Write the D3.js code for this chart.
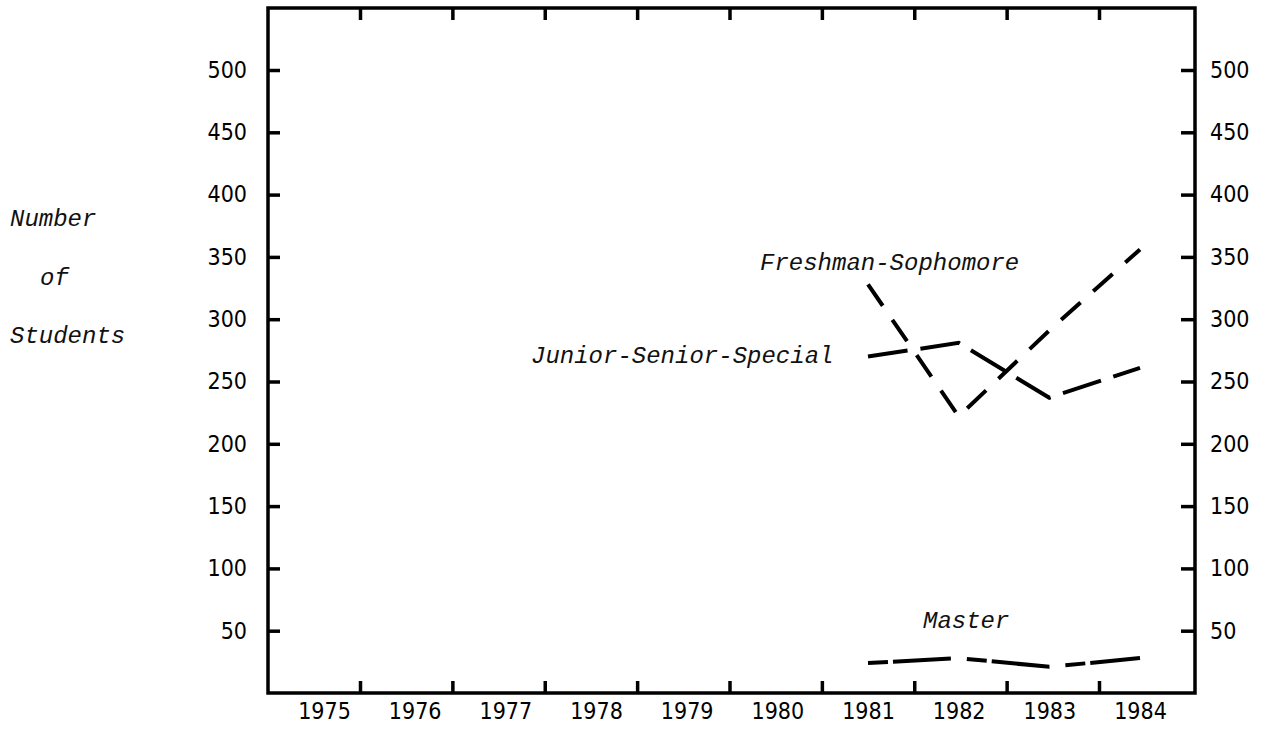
<!DOCTYPE html>
<html>
<head>
<meta charset="utf-8">
<script src="https://cdn.jsdelivr.net/npm/d3@7"></script>
<style>
  body { margin: 0; background: #fff; }
  svg { display: block; }
  .tick text { font-family: "DejaVu Sans Condensed", "DejaVu Sans", sans-serif; font-stretch: condensed; fill: #000; }
  .note { font-family: "Liberation Mono", "Courier New", monospace; font-style: italic; font-size: 24px; fill: #111; }
</style>
</head>
<body>
<script>
var years = [1975, 1976, 1977, 1978, 1979, 1980, 1981, 1982, 1983, 1984];
var dataYears = [1981, 1982, 1983, 1984];
var freshSoph = [328, 222, 291, 356];
var juniorSenior = [270, 281, 237, 261];
var master = [24, 28, 21, 28];
var yTicks = [50, 100, 150, 200, 250, 300, 350, 400, 450, 500];

var width = 1270, height = 729;
var frame = {left: 268, right: 1195, top: 8, bottom: 693};

var svg = d3.select("body").append("svg")
    .attr("width", width).attr("height", height);

// years sit at label centres, the tick marks fall between them
var x = d3.scaleLinear().domain([1975, 1984]).range([324, 1140]);
var xTick = d3.scaleLinear().domain([1975.5, 1983.5]).range([360, 1099]);
var y = d3.scaleLinear().domain([0, 500]).range([frame.bottom, 70]);

var tickYears = years.slice(0, 9).map(function(d){ return d + 0.5; });

// frame
svg.append("rect")
    .attr("x", frame.left).attr("y", frame.top)
    .attr("width", frame.right - frame.left)
    .attr("height", frame.bottom - frame.top)
    .attr("fill", "none").attr("stroke", "#000").attr("stroke-width", 3.5);

// tick marks bottom and top
svg.append("g").attr("transform", "translate(0," + frame.bottom + ")")
    .call(d3.axisTop(xTick).tickValues(tickYears).tickSize(12).tickFormat(""))
    .call(function(g){ g.select(".domain").remove(); g.selectAll("line").attr("stroke-width", 3.5); });
svg.append("g").attr("transform", "translate(0," + frame.top + ")")
    .call(d3.axisBottom(xTick).tickValues(tickYears).tickSize(12).tickFormat(""))
    .call(function(g){ g.select(".domain").remove(); g.selectAll("line").attr("stroke-width", 3.5); });

// year labels
svg.append("g").attr("transform", "translate(0," + frame.bottom + ")")
    .call(d3.axisBottom(x).tickValues(years).tickSize(0).tickPadding(10).tickFormat(d3.format("d")))
    .call(function(g){ g.select(".domain").remove(); g.selectAll("text").attr("font-size", 23); });

// left and right value axes
svg.append("g").attr("transform", "translate(" + frame.left + ",0)")
    .call(d3.axisRight(y).tickValues(yTicks).tickSize(12).tickFormat(""))
    .call(function(g){ g.select(".domain").remove(); g.selectAll("line").attr("stroke-width", 3.5); });
svg.append("g").attr("transform", "translate(" + frame.left + ",0)")
    .call(d3.axisLeft(y).tickValues(yTicks).tickSize(0).tickPadding(21))
    .call(function(g){ g.select(".domain").remove(); g.selectAll("text").attr("font-size", 23); });

svg.append("g").attr("transform", "translate(" + frame.right + ",0)")
    .call(d3.axisLeft(y).tickValues(yTicks).tickSize(14).tickFormat(""))
    .call(function(g){ g.select(".domain").remove(); g.selectAll("line").attr("stroke-width", 3.5); });
svg.append("g").attr("transform", "translate(" + frame.right + ",0)")
    .call(d3.axisRight(y).tickValues(yTicks).tickSize(0).tickPadding(15))
    .call(function(g){
      g.select(".domain").remove();
      g.selectAll("text").attr("font-size", 23)
        .attr("fill", function(d){ return d === 300 ? "#aaa" : "#000"; });
    });

// series
var line = d3.line()
    .x(function(d, i){ return x(dataYears[i]); })
    .y(function(d){ return y(d); });

var series = [
  {name: "Freshman-Sophomore", values: freshSoph, dash: "26,17"},
  {name: "Junior-Senior-Special", values: juniorSenior, dash: "40,13"},
  {name: "Master", values: master, dash: "20,5,58,16"}
];

svg.selectAll(".series").data(series)
  .enter().append("path")
    .attr("class", "series")
    .attr("d", function(d){ return line(d.values); })
    .attr("fill", "none")
    .attr("stroke", "#000")
    .attr("stroke-width", 4)
    .attr("stroke-dasharray", function(d){ return d.dash; });

// labels on the lines
var notes = [
  {text: "Freshman-Sophomore", x: 760, y: 270},
  {text: "Junior-Senior-Special", x: 531, y: 363},
  {text: "Master", x: 923, y: 628},
  {text: "Number", x: 10, y: 226},
  {text: "of", x: 40, y: 285},
  {text: "Students", x: 10, y: 343}
];

svg.selectAll(".note").data(notes)
  .enter().append("text")
    .attr("class", "note")
    .attr("x", function(d){ return d.x; })
    .attr("y", function(d){ return d.y; })
    .text(function(d){ return d.text; });
</script>
</body>
</html>
